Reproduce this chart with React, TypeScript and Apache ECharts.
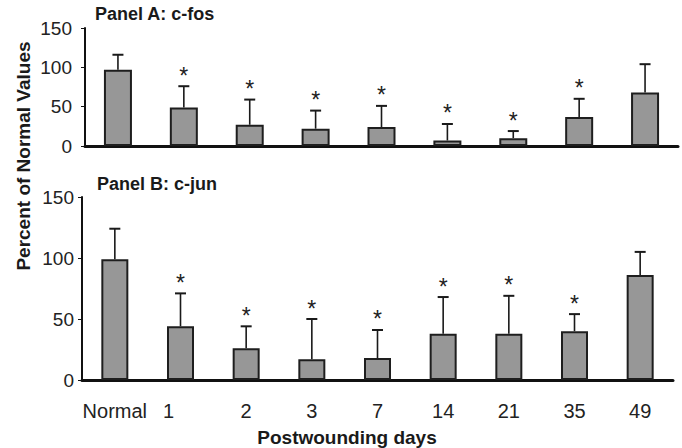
import React, { useEffect, useRef } from "react";
import * as echarts from "echarts";

const categories = ["Normal", "1", "2", "3", "7", "14", "21", "35", "49"];
const fosMean = [97, 49, 27, 22, 24, 7, 10, 37, 68];
const fosUpper = [116, 76, 59, 45, 51, 28, 19, 60, 104];
const junMean = [99, 44, 26, 17, 18, 38, 38, 40, 86];
const junUpper = [124, 71, 44, 50, 41, 68, 69, 54, 105];
const significant = [0, 1, 1, 1, 1, 1, 1, 1, 0];
const yTicks = [0, 50, 100, 150];

const FONT = "Liberation Sans, Arial, Helvetica, sans-serif";

function errData(mean: number[], upper: number[]) {
  return mean.map((m, i) => [i, m, upper[i], significant[i]]);
}

function renderErr(params: any, api: any) {
  const idx = api.value(0);
  const mean = api.value(1);
  const up = api.value(2);
  const star = api.value(3);
  const b = api.coord([idx, mean]);
  const t = api.coord([idx, up]);
  const children: any[] = [
    { type: "line", shape: { x1: b[0], y1: b[1], x2: t[0], y2: t[1] }, style: { stroke: "#1a1a1a", lineWidth: 1.6 } },
    { type: "line", shape: { x1: t[0] - 5.5, y1: t[1], x2: t[0] + 5.5, y2: t[1] }, style: { stroke: "#1a1a1a", lineWidth: 2 } },
  ];
  if (star) {
    children.push({
      type: "text",
      style: {
        text: "*",
        x: t[0],
        y: t[1] + 1,
        fontSize: 23,
        fontFamily: FONT,
        fill: "#222",
        align: "center",
        verticalAlign: "bottom",
      },
    });
  }
  return { type: "group", children };
}

function yAxis(gridIndex: number, margin: number) {
  return {
    type: "value",
    gridIndex,
    min: 0,
    max: 150,
    interval: 50,
    axisLine: { show: true, lineStyle: { color: "#111", width: 2 } },
    axisTick: { show: true, length: 4, lineStyle: { color: "#111", width: 1 } },
    splitLine: { show: false },
    axisLabel: {
      fontSize: 19,
      fontFamily: FONT,
      color: "#222",
      margin,
      customValues: yTicks,
    },
  };
}

export default function App() {
  const ref = useRef<HTMLDivElement>(null);
  useEffect(() => {
    if (!ref.current) return;
    const chart = echarts.init(ref.current, null, { renderer: "svg" });
    const xAxisCommon = {
      type: "category",
      data: categories,
      axisLine: { show: true, lineStyle: { color: "#111", width: 3 } },
      axisTick: { show: false },
    };
    chart.setOption({
      animation: false,
      backgroundColor: "#fff",
      grid: [
        { left: 85, right: 4, top: 28, bottom: 302 },
        { left: 82, right: 9, top: 197, bottom: 68 },
      ],
      xAxis: [
        { ...xAxisCommon, gridIndex: 0, axisLabel: { show: false } },
        {
          ...xAxisCommon,
          gridIndex: 1,
          axisLabel: {
            interval: 0,
            hideOverlap: false,
            fontSize: 20,
            fontFamily: FONT,
            color: "#222",
            margin: 21,
            formatter: (v: string) => (v === "1" ? "{s|1}" : v),
            rich: { s: { fontSize: 20, fontFamily: FONT, color: "#222", padding: [0, 24, 0, 0] } },
          },
        },
      ],
      yAxis: [yAxis(0, 13), yAxis(1, 8)],
      series: [
        {
          type: "bar",
          xAxisIndex: 0,
          yAxisIndex: 0,
          data: fosMean,
          barWidth: 28,
          itemStyle: { color: "#979797", borderColor: "#1e1e1e", borderWidth: 2 },
          z: 2,
        },
        {
          type: "custom",
          xAxisIndex: 0,
          yAxisIndex: 0,
          data: errData(fosMean, fosUpper),
          encode: { x: 0, y: [1, 2] },
          renderItem: renderErr,
          z: 3,
        },
        {
          type: "bar",
          xAxisIndex: 1,
          yAxisIndex: 1,
          data: junMean,
          barWidth: 27,
          itemStyle: { color: "#979797", borderColor: "#1e1e1e", borderWidth: 2 },
          z: 2,
        },
        {
          type: "custom",
          xAxisIndex: 1,
          yAxisIndex: 1,
          data: errData(junMean, junUpper),
          encode: { x: 0, y: [1, 2] },
          renderItem: renderErr,
          z: 3,
        },
      ],
      graphic: [
        {
          type: "text",
          left: 95,
          top: 5,
          style: { text: "Panel A: c-fos", fontSize: 18, fontWeight: "bold", fontFamily: FONT, fill: "#1a1a1a" },
        },
        {
          type: "text",
          left: 97,
          top: 175,
          style: { text: "Panel B: c-jun", fontSize: 18, fontWeight: "bold", fontFamily: FONT, fill: "#1a1a1a" },
        },
        {
          type: "text",
          x: 23,
          y: 156,
          rotation: Math.PI / 2,
          style: {
            text: "Percent of Normal Values",
            fontSize: 19,
            fontWeight: "bold",
            fontFamily: FONT,
            fill: "#1a1a1a",
            align: "center",
            verticalAlign: "middle",
          },
        },
        {
          type: "text",
          x: 347,
          y: 437,
          style: {
            text: "Postwounding days",
            fontSize: 19,
            fontWeight: "bold",
            fontFamily: FONT,
            fill: "#1a1a1a",
            align: "center",
            verticalAlign: "middle",
          },
        },
      ],
    });
    return () => chart.dispose();
  }, []);
  return <div ref={ref} style={{ width: 682, height: 448, position: "absolute", left: 0, top: 0 }} />;
}
